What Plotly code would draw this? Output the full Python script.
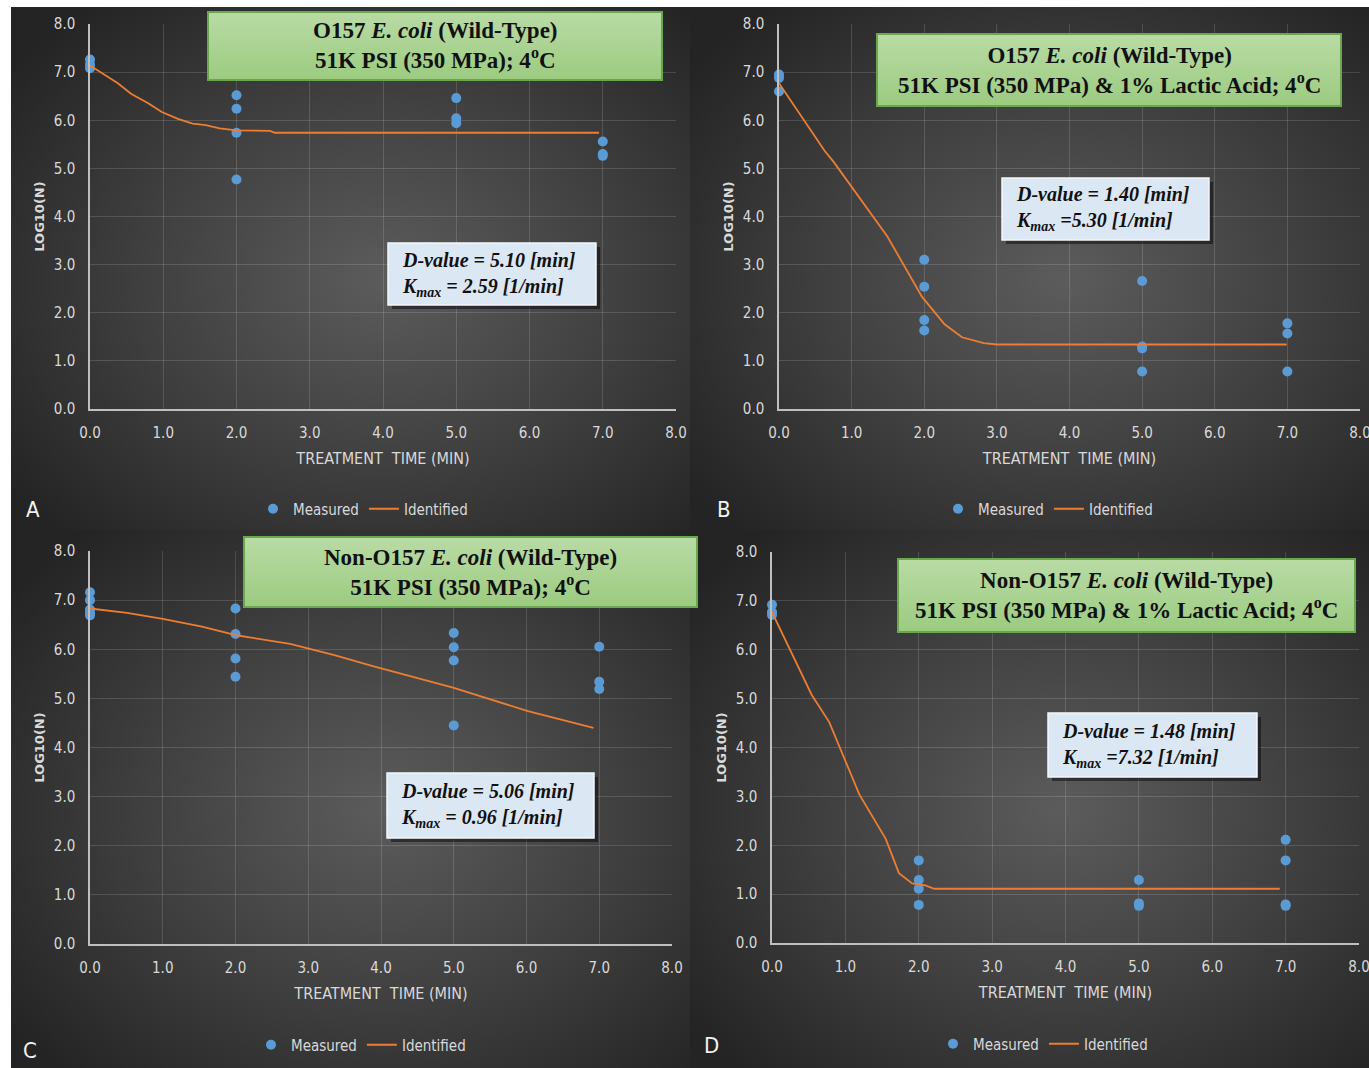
import base64
import plotly.graph_objects as go

W, H = 1369, 1068

# ---------------- data ----------------
a_meas_x = [0, 0, 0, 2, 2, 2, 2, 5, 5, 5, 7, 7, 7]
a_meas_y = [7.26, 7.16, 7.08, 6.52, 6.24, 5.74, 4.77, 6.46, 6.04, 5.94, 5.56, 5.30, 5.26]
a_fit_x = [0, 0.2, 0.38, 0.56, 0.8, 0.98, 1.2, 1.4, 1.58, 1.77, 2.0, 2.46, 2.52, 6.95]
a_fit_y = [7.14, 6.95, 6.77, 6.55, 6.35, 6.17, 6.03, 5.93, 5.90, 5.83, 5.79, 5.78, 5.74, 5.74]

b_meas_x = [0, 0, 0, 2, 2, 2, 2, 5, 5, 5, 5, 7, 7, 7]
b_meas_y = [6.95, 6.88, 6.60, 3.10, 2.54, 1.85, 1.63, 2.66, 1.30, 1.26, 0.78, 1.78, 1.57, 0.78]
b_fit_x = [0, 0.63, 0.75, 1.49, 1.97, 2.28, 2.52, 2.82, 3.0, 6.99]
b_fit_y = [6.77, 5.36, 5.14, 3.59, 2.33, 1.76, 1.49, 1.37, 1.34, 1.34]

c_meas_x = [0, 0, 0, 0, 0, 2, 2, 2, 2, 5, 5, 5, 5, 7, 7, 7]
c_meas_y = [7.16, 7.00, 6.81, 6.74, 6.69, 6.83, 6.31, 5.81, 5.44, 6.33, 6.04, 5.77, 4.45, 6.05, 5.34, 5.19]
c_fit_x = [0, 0.51, 1.0, 1.54, 2.03, 2.75, 3.36, 3.9, 4.99, 5.23, 6.02, 6.92]
c_fit_y = [6.83, 6.74, 6.62, 6.46, 6.28, 6.11, 5.88, 5.65, 5.22, 5.11, 4.74, 4.40]

d_meas_x = [0, 0, 0, 2, 2, 2, 2, 5, 5, 5, 7, 7, 7, 7]
d_meas_y = [6.92, 6.77, 6.71, 1.69, 1.29, 1.11, 0.78, 1.29, 0.81, 0.76, 2.11, 1.69, 0.79, 0.76]
d_fit_x = [0, 0.54, 0.78, 1.19, 1.55, 1.73, 1.91, 2.09, 2.21, 6.92]
d_fit_y = [6.77, 5.08, 4.52, 3.04, 2.13, 1.43, 1.22, 1.18, 1.11, 1.11]

tick_vals = [0, 1, 2, 3, 4, 5, 6, 7, 8]
tick_text = ["0.0", "1.0", "2.0", "3.0", "4.0", "5.0", "6.0", "7.0", "8.0"]

titles = [
    "<b>O157 <i>E. coli</i> (Wild-Type)</b><br><b>51K PSI (350 MPa); 4<sup>o</sup>C</b>",
    "<b>O157 <i>E. coli</i> (Wild-Type)</b><br><b>51K PSI (350 MPa) &amp; 1% Lactic Acid; 4<sup>o</sup>C</b>",
    "<b>Non-O157 <i>E. coli</i> (Wild-Type)</b><br><b>51K PSI (350 MPa); 4<sup>o</sup>C</b>",
    "<b>Non-O157 <i>E. coli</i> (Wild-Type)</b><br><b>51K PSI (350 MPa) &amp; 1% Lactic Acid; 4<sup>o</sup>C</b>",
]
infos = [
    "<b><i>D-value = 5.10 [min]</i></b><br><b><i>K<sub>max</sub> = 2.59 [1/min]</i></b>",
    "<b><i>D-value = 1.40 [min]</i></b><br><b><i>K<sub>max</sub> =5.30 [1/min]</i></b>",
    "<b><i>D-value = 5.06 [min]</i></b><br><b><i>K<sub>max</sub> = 0.96 [1/min]</i></b>",
    "<b><i>D-value = 1.48 [min]</i></b><br><b><i>K<sub>max</sub> =7.32 [1/min]</i></b>",
]
letters = ["A", "B", "C", "D"]

# ---------------- layout geometry (pixels) ----------------
panels = [  # background rect x0,y0,x1,y1
    (11, 7, 690, 530), (690, 7, 1369, 530), (11, 530, 690, 1068), (690, 530, 1369, 1068)]
plots = [  # plot area x0,x1,ytop,ybottom
    (90, 676, 24, 409), (779, 1360, 24, 409), (90, 672, 551, 944), (772, 1359, 552, 943)]
green = [(207, 11, 663, 81), (876, 33, 1342, 107), (243, 536, 698, 608), (897, 558, 1356, 633)]
info = [(388, 243, 596, 305), (1002, 178, 1209, 240), (387, 773, 594, 838), (1048, 713, 1257, 777)]
letter_pos = [(33, 509), (724, 509), (30, 1050), (711, 1045)]
legend_pos = [(363, 509), (1048, 509), (361, 1045), (1043, 1044)]


def fx(x):
    return x / W


def fy(y):
    return 1 - y / H


def svg_uri(svg):
    return "data:image/svg+xml;base64," + base64.b64encode(svg.encode()).decode()


def radial_svg(w, h):
    return (f'<svg xmlns="http://www.w3.org/2000/svg" width="{w}" height="{h}" '
            f'viewBox="0 0 {w} {h}" preserveAspectRatio="none"><defs>'
            '<radialGradient id="g" cx="55%" cy="52%" r="68%">'
            '<stop offset="0" stop-color="#5c5c5c"/><stop offset="0.55" stop-color="#3e3e3e"/>'
            '<stop offset="1" stop-color="#242424"/></radialGradient></defs>'
            f'<rect width="{w}" height="{h}" fill="url(#g)"/></svg>')


def green_svg(w, h):
    return (f'<svg xmlns="http://www.w3.org/2000/svg" width="{w}" height="{h}" '
            f'viewBox="0 0 {w} {h}" preserveAspectRatio="none"><defs>'
            '<linearGradient id="g" x1="0" y1="0" x2="0" y2="1">'
            '<stop offset="0" stop-color="#b9dba5"/><stop offset="1" stop-color="#9ccb80"/>'
            '</linearGradient></defs>'
            f'<rect x="1" y="1" width="{w-2}" height="{h-2}" fill="url(#g)" stroke="#6aa84f" stroke-width="2"/></svg>')


fig = go.Figure()

meas = [(a_meas_x, a_meas_y), (b_meas_x, b_meas_y), (c_meas_x, c_meas_y), (d_meas_x, d_meas_y)]
fits = [(a_fit_x, a_fit_y), (b_fit_x, b_fit_y), (c_fit_x, c_fit_y), (d_fit_x, d_fit_y)]

LABEL_FONT = "Liberation Sans Narrow, DejaVu Sans Condensed, Roboto, sans-serif"
SERIF = "Liberation Serif, Times New Roman, serif"

layout = dict(
    width=W, height=H, margin=dict(l=0, r=0, t=0, b=0),
    paper_bgcolor="white", plot_bgcolor="rgba(0,0,0,0)",
    showlegend=True, images=[], shapes=[], annotations=[],
    font=dict(family=LABEL_FONT, size=14, color="#d9d9d9"),
)

for i in range(4):
    ax = "" if i == 0 else str(i + 1)
    leg = "legend" if i == 0 else f"legend{i+1}"
    mx, my = meas[i]
    lx, ly = fits[i]
    fig.add_trace(go.Scatter(
        x=mx, y=my, mode="markers", name="Measured",
        marker=dict(color="#5b9bd5", size=10, line=dict(width=0)),
        cliponaxis=False, xaxis="x" + ax, yaxis="y" + ax, legend=leg))
    fig.add_trace(go.Scatter(
        x=lx, y=ly, mode="lines", name="Identified",
        line=dict(color="#ed7d31", width=1.8),
        cliponaxis=False, xaxis="x" + ax, yaxis="y" + ax, legend=leg))

    x0, x1, yt, yb = plots[i]
    axis_common = dict(
        range=[0, 8], tickvals=tick_vals, ticktext=tick_text,
        showgrid=True, gridcolor="rgba(255,255,255,0.14)", gridwidth=1,
        zeroline=False, showline=True, linecolor="#bfbfbf", linewidth=1.5,
        ticks="outside", tickcolor="rgba(0,0,0,0)",
        tickfont=dict(family=LABEL_FONT, size=15, color="#d9d9d9"),
        automargin=False, fixedrange=True,
    )
    layout["xaxis" + ax] = dict(
        axis_common, domain=[fx(x0), fx(x1)], anchor="y" + ax, ticklen=9,
        ticklabeloverflow="allow",
        title=dict(text="TREATMENT  TIME (MIN)", standoff=12,
                   font=dict(family=LABEL_FONT, size=16, color="#d9d9d9")))
    layout["yaxis" + ax] = dict(
        axis_common, domain=[fy(yb), fy(yt)], anchor="x" + ax, ticklen=10,
        title=dict(text="<b>LOG10(N)</b>", standoff=6,
                   font=dict(family="DejaVu Sans, sans-serif", size=13, color="#d9d9d9")))

    lgx, lgy = legend_pos[i]
    layout[leg] = dict(
        orientation="h", x=fx(lgx), y=fy(lgy), xanchor="center", yanchor="middle",
        bgcolor="rgba(0,0,0,0)", font=dict(family=LABEL_FONT, size=15, color="#d9d9d9"),
        itemwidth=30, tracegroupgap=0)

    # background panel
    px0, py0, px1, py1 = panels[i]
    layout["images"].append(dict(
        source=svg_uri(radial_svg(px1 - px0, py1 - py0)), xref="paper", yref="paper",
        x=fx(px0), y=fy(py0), sizex=(px1 - px0) / W, sizey=(py1 - py0) / H,
        xanchor="left", yanchor="top", sizing="stretch", layer="below"))

    # green title box
    gx0, gy0, gx1, gy1 = green[i]
    layout["images"].append(dict(
        source=svg_uri(green_svg(gx1 - gx0, gy1 - gy0)), xref="paper", yref="paper",
        x=fx(gx0), y=fy(gy0), sizex=(gx1 - gx0) / W, sizey=(gy1 - gy0) / H,
        xanchor="left", yanchor="top", sizing="stretch", layer="above"))
    layout["annotations"].append(dict(
        text=titles[i], xref="paper", yref="paper",
        x=fx((gx0 + gx1) / 2), y=fy((gy0 + gy1) / 2), xanchor="center", yanchor="middle",
        showarrow=False, align="center",
        font=dict(family=SERIF, size=23, color="#111111")))

    # info box with shadow
    ix0, iy0, ix1, iy1 = info[i]
    layout["shapes"].append(dict(
        type="rect", xref="paper", yref="paper", layer="above",
        x0=fx(ix0 + 4), x1=fx(ix1 + 4), y0=fy(iy1 + 4), y1=fy(iy0 + 4),
        fillcolor="rgba(0,0,0,0.45)", line=dict(width=0)))
    layout["shapes"].append(dict(
        type="rect", xref="paper", yref="paper", layer="above",
        x0=fx(ix0), x1=fx(ix1), y0=fy(iy1), y1=fy(iy0),
        fillcolor="#dce7f4", line=dict(color="#f4f7fb", width=1.5)))
    layout["annotations"].append(dict(
        text=infos[i], xref="paper", yref="paper",
        x=fx(ix0 + 12), y=fy((iy0 + iy1) / 2), xanchor="left", yanchor="middle",
        showarrow=False, align="left",
        font=dict(family=SERIF, size=20, color="#111111")))

    # panel letter
    lx_, ly_ = letter_pos[i]
    layout["annotations"].append(dict(
        text=letters[i], xref="paper", yref="paper", x=fx(lx_), y=fy(ly_),
        xanchor="center", yanchor="middle", showarrow=False,
        font=dict(family=LABEL_FONT, size=22, color="#f2f2f2")))

fig.update_layout(**layout)
fig.write_html("out.html", config={"displayModeBar": False},
               post_script="document.body.style.margin='0px';")
